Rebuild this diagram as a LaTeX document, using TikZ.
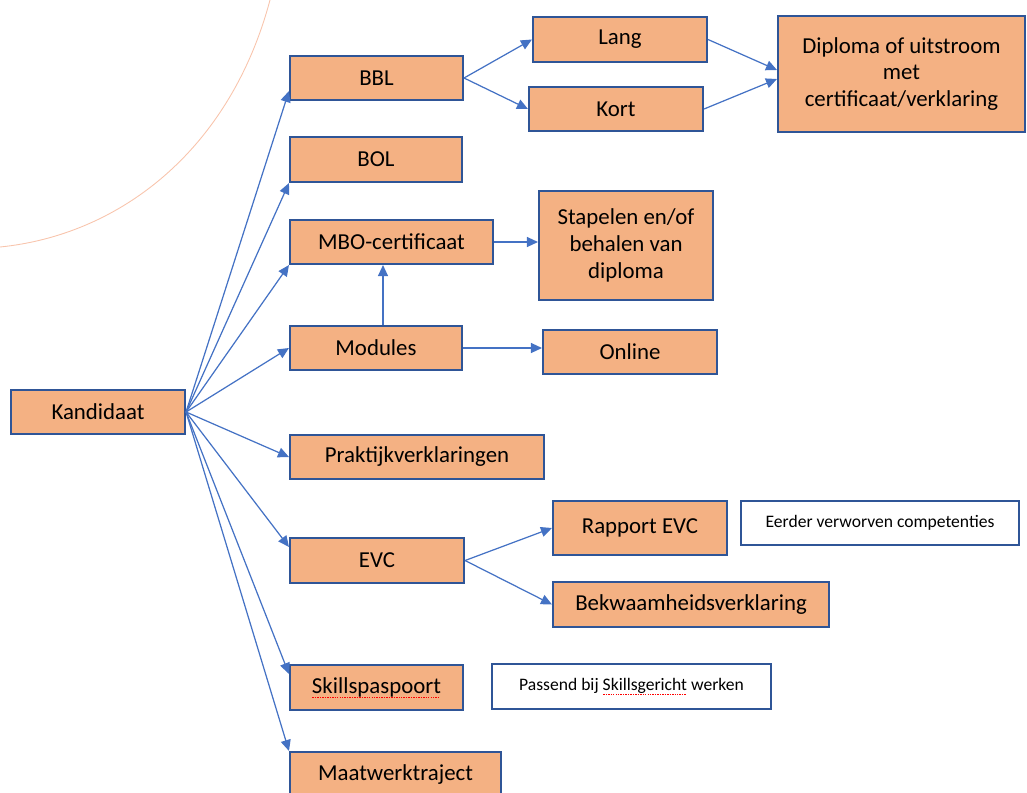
\documentclass[tikz,border=0pt]{standalone}
\usepackage{fontspec}
\setmainfont{Carlito}
\usetikzlibrary{arrows.meta}
\definecolor{boxfill}{HTML}{F4B183}
\definecolor{boxline}{HTML}{2F5597}
\definecolor{linkblue}{HTML}{4472C4}
\definecolor{arcorange}{HTML}{F8C4AC}
\newcommand{\spellmark}[1]{\setbox0=\hbox{#1}\rlap{\color{red}\raisebox{-2.6pt}{\hbox to \wd0{\leaders\hbox to 1.4pt{\hss\rule{0.8pt}{0.55pt}\hss}\hfill}}}\box0\relax}

\begin{document}
\begin{tikzpicture}[x=0.02cm,y=-0.02cm,
  box/.style={draw=boxline,fill=boxfill,line width=1.2pt,inner sep=0pt,align=center,
    font=\fontsize{13}{15.2}\selectfont},
  note/.style={draw=boxline,fill=white,line width=1.2pt,inner sep=0pt,
    font=\fontsize{10}{12}\selectfont},
  link/.style={linkblue,line width=0.7pt,-{Triangle[length=2.2mm,width=2mm]}}]
\useasboundingbox (0,0) rectangle (1027,792);
\clip (0,0) rectangle (1027,792);
\draw[arcorange,line width=0.5pt] (270,0) .. controls (230,150) and (120,235) .. (0,247);
% linker kolom
\node[box,minimum width=3.48cm,minimum height=0.88cm] at (98,412) (kand) {Kandidaat};
% middelste kolom
\node[box,minimum width=3.46cm,minimum height=0.88cm] at (376.5,78) (bbl) {BBL};
\node[box,minimum width=3.44cm,minimum height=0.9cm] at (376,159.5) (bol) {BOL};
\node[box,minimum width=4.06cm,minimum height=0.88cm] at (391.5,242) (mbo) {MBO-certificaat};
\node[box,minimum width=3.44cm,minimum height=0.88cm] at (376,348) (mod) {Modules};
\node[box,minimum width=5.08cm,minimum height=0.88cm] at (417,457) (prak) {Praktijkverklaringen};
\node[box,minimum width=3.48cm,minimum height=0.9cm] at (377,560.5) (evc) {EVC};
\node[box,minimum width=3.46cm,minimum height=0.9cm] at (376.5,687.5) (skil) {\spellmark{Skillspaspoort}};
\node[box,minimum width=4.22cm,minimum height=0.9cm] at (395.5,774.5) (maat) {Maatwerktraject};
% rechter kolommen
\node[box,minimum width=3.48cm,minimum height=0.9cm] at (620,39.5) (lang) {Lang};
\node[box,minimum width=3.48cm,minimum height=0.88cm] at (616,109) (kort) {Kort};
\node[box,minimum width=4.94cm,minimum height=2.32cm] at (901.5,74) (dipl) {Diploma of uitstroom\\met\\certificaat/verklaring};
\node[box,minimum width=3.48cm,minimum height=2.18cm] at (626,245.5) (stap) {Stapelen en/of\\behalen van\\diploma};
\node[box,minimum width=3.48cm,minimum height=0.88cm] at (630,352) (onl) {Online};
\node[box,minimum width=3.48cm,minimum height=1.08cm] at (640,528) (rap) {Rapport EVC};
\node[box,minimum width=5.52cm,minimum height=0.9cm] at (691,604.5) (bekw) {Bekwaamheidsverklaring};
\node[note,minimum width=5.56cm,minimum height=0.88cm] at (880,523) (eerd) {Eerder verworven competenties};
\node[note,minimum width=5.58cm,minimum height=0.9cm] at (631.5,686.5) (pas) {Passend bij \spellmark{Skillsgericht} werken};
% pijlen vanuit Kandidaat
\draw[link] (kand.east) -- ([yshift=0.2cm]bbl.south west);
\draw[link] (kand.east) -- (bol.south west);
\draw[link] (kand.east) -- (mbo.south west);
\draw[link] (kand.east) -- (mod.west);
\draw[link] (kand.east) -- (prak.west);
\draw[link] (kand.east) -- ([yshift=-0.2cm]evc.north west);
\draw[link] (kand.east) -- ([yshift=-0.2cm]skil.north west);
\draw[link] (kand.east) -- (maat.north west);
% overige pijlen
\draw[link] (bbl.east) -- (lang.west);
\draw[link] (bbl.east) -- (kort.west);
\draw[link] (lang.east) -- ([yshift=0.08cm]dipl.west);
\draw[link] (kort.east) -- ([yshift=-0.1cm]dipl.west);
\draw[link] (mbo.east) -- (mbo.east -| stap.west);
\draw[link] ([xshift=0.14cm]mod.north) -- ([xshift=0.14cm]mod.north |- mbo.south);
\draw[link] (mod.east) -- (mod.east -| onl.west);
\draw[link] (evc.east) -- (rap.west);
\draw[link] (evc.east) -- (bekw.west);
\end{tikzpicture}
\end{document}
